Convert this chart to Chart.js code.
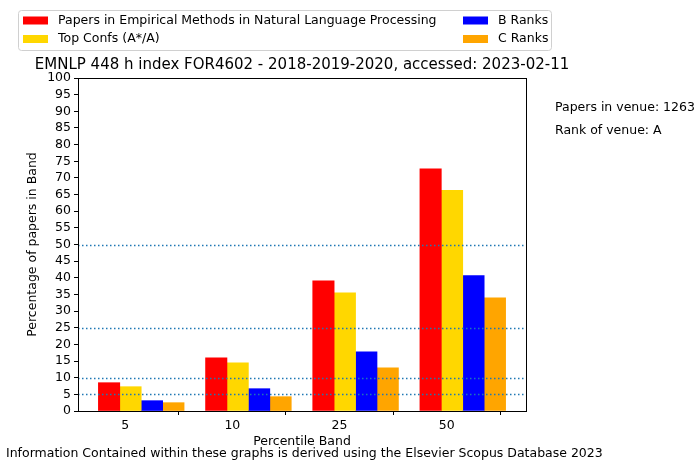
<!DOCTYPE html>
<html lang="en">
<head>
<meta charset="UTF-8">
<title>EMNLP percentile bands</title>
<script src="https://cdn.jsdelivr.net/npm/chart.js"></script>
<style>
  html, body { margin: 0; padding: 0; background: #fff; }
  #wrap { width: 695px; height: 460px; position: relative; }
</style>
</head>
<body>
<div id="wrap"><canvas id="bandChart"></canvas></div>
<script>
// data
const bands = ['5', '10', '25', '50'];
const venuePapers = [8.5, 16.0, 39.1, 72.7];
const topConfs = [7.3, 14.5, 35.5, 66.3];
const bRanks = [3.1, 6.7, 17.8, 40.7];
const cRanks = [2.5, 4.3, 13.0, 34.0];
const refLines = [5, 10, 25, 50];

const seriesNames = ['Papers in Empirical Methods in Natural Language Processing', 'Top Confs (A*/A)', 'B Ranks', 'C Ranks'];
const seriesColors = ['#ff0000', '#ffd700', '#0000ff', '#ffa500'];
const titleText = 'EMNLP 448 h index FOR4602 - 2018-2019-2020, accessed: 2023-02-11';
const sideText = ['Papers in venue: 1263', 'Rank of venue: A'];
const footerText = 'Information Contained within these graphs is derived using the Elsevier Scopus Database 2023';

const FONT = '"DejaVu Sans", sans-serif';
const TXT = 12.5;

// bars sit like matplotlib's grouped bars: offset -0.15, 0.05, 0.25, 0.45 from the tick
const offsets = [-0.15, 0.05, 0.25, 0.45];
function toPoints(values, k) {
    return values.map((v, i) => ({ x: i + offsets[k], y: v }));
}

const datasets = [venuePapers, topConfs, bRanks, cRanks].map((vals, k) => ({
    label: seriesNames[k],
    data: toPoints(vals, k),
    backgroundColor: seriesColors[k],
    borderWidth: 0,
    barThickness: 21.4,
    grouped: false
}));

const extras = {
    id: 'extras',
    afterDatasetsDraw(chart) {
        const { ctx, chartArea: a, scales } = chart;
        ctx.save();
        // dotted reference lines
        ctx.strokeStyle = '#1f77b4';
        ctx.lineWidth = 1.5;
        ctx.setLineDash([1.5, 2.5]);
        refLines.forEach(v => {
            const y = Math.round(scales.y.getPixelForValue(v)) + 0.5;
            ctx.beginPath();
            ctx.moveTo(a.left, y);
            ctx.lineTo(a.right, y);
            ctx.stroke();
        });
        ctx.setLineDash([]);
        // frame
        ctx.strokeStyle = '#000';
        ctx.lineWidth = 1;
        ctx.strokeRect(Math.round(a.left) + 0.5, Math.round(a.top) + 0.5, Math.round(a.right - a.left), Math.round(a.bottom - a.top));

        ctx.fillStyle = '#000';
        // title
        ctx.font = '15px ' + FONT;
        ctx.textAlign = 'center';
        ctx.textBaseline = 'middle';
        ctx.fillText(titleText, (a.left + a.right) / 2, 65);
        // axis titles
        ctx.font = TXT + 'px ' + FONT;
        ctx.fillText('Percentile Band', (a.left + a.right) / 2, 442);
        ctx.save();
        ctx.translate(33, (a.top + a.bottom) / 2);
        ctx.rotate(-Math.PI / 2);
        ctx.fillText('Percentage of papers in Band', 0, 0);
        ctx.restore();
        // footer
        ctx.textAlign = 'left';
        ctx.fillText(footerText, 6, 454);
        // side notes
        ctx.fillText(sideText[0], 555, 108);
        ctx.fillText(sideText[1], 555, 131);

        // legend box
        const bx = 18.5, by = 10.5, bw = 533, bh = 40, r = 3;
        ctx.beginPath();
        ctx.moveTo(bx + r, by);
        ctx.arcTo(bx + bw, by, bx + bw, by + bh, r);
        ctx.arcTo(bx + bw, by + bh, bx, by + bh, r);
        ctx.arcTo(bx, by + bh, bx, by, r);
        ctx.arcTo(bx, by, bx + bw, by, r);
        ctx.closePath();
        ctx.fillStyle = 'rgba(255,255,255,0.8)';
        ctx.fill();
        ctx.strokeStyle = '#d0d0d0';
        ctx.stroke();
        const cols = [{ px: 23, tx: 58 }, { px: 463, tx: 498 }];
        const rows = [20.5, 39];
        const order = [[0, 0, 0], [1, 0, 1], [2, 1, 0], [3, 1, 1]];
        ctx.font = TXT + 'px ' + FONT;
        ctx.textAlign = 'left';
        order.forEach(([k, c, rIdx]) => {
            const y = rows[rIdx];
            ctx.fillStyle = seriesColors[k];
            ctx.fillRect(cols[c].px, y - 4, 25, 8);
            ctx.fillStyle = '#000';
            ctx.fillText(seriesNames[k], cols[c].tx, y);
        });
        ctx.restore();
    }
};

new Chart(document.getElementById('bandChart'), {
    type: 'bar',
    data: { datasets },
    options: {
        responsive: true,
        maintainAspectRatio: false,
        animation: false,
        layout: { padding: { left: 0, top: 78, right: 169, bottom: 0 } },
        plugins: { legend: { display: false }, tooltip: { enabled: false } },
        scales: {
            x: {
                type: 'linear',
                min: -0.44,
                max: 3.74,
                offset: false,
                afterFit(scale) { scale.height = 49; },
                afterBuildTicks(scale) { scale.ticks = bands.map((b, i) => ({ value: i })); },
                ticks: {
                    color: '#000',
                    font: { family: FONT, size: TXT },
                    padding: 3,
                    maxRotation: 0,
                    callback: (v) => bands[v]
                },
                grid: { drawOnChartArea: false, drawTicks: true, tickLength: 4, color: '#000' },
                border: { display: false }
            },
            y: {
                min: 0,
                max: 100,
                afterFit(scale) { scale.width = 78; },
                ticks: {
                    stepSize: 5,
                    autoSkip: false,
                    color: '#000',
                    font: { family: FONT, size: TXT },
                    padding: 3
                },
                grid: { drawOnChartArea: false, drawTicks: true, tickLength: 4, color: '#000' },
                border: { display: false }
            }
        }
    },
    plugins: [extras]
});
</script>
</body>
</html>
